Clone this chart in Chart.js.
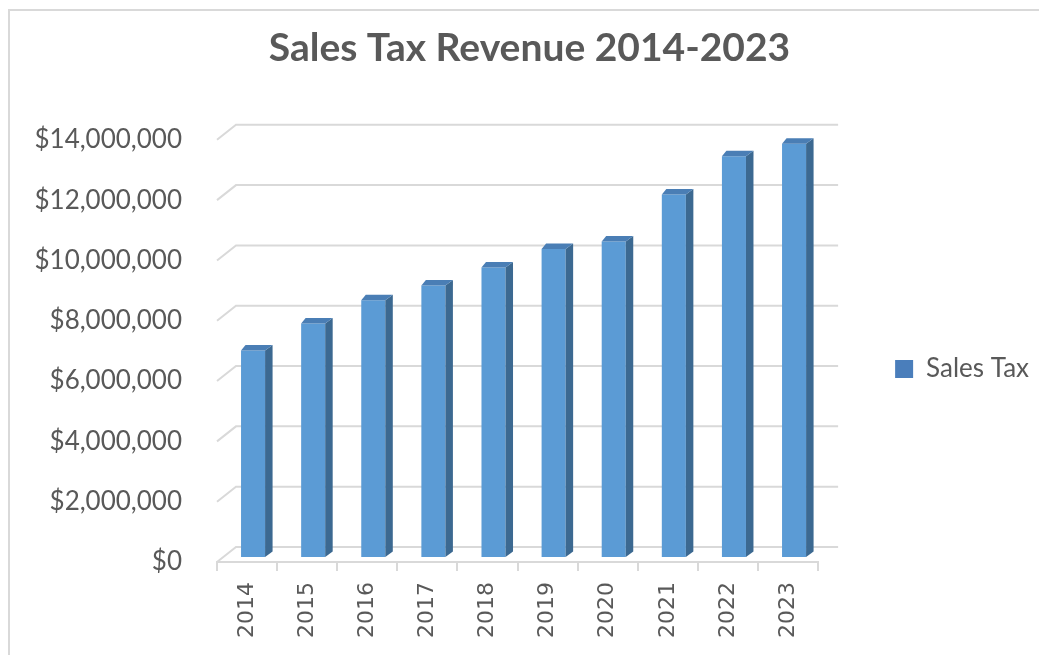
<!DOCTYPE html>
<html><head><meta charset="utf-8">
<script src="https://cdn.jsdelivr.net/npm/chart.js@4.4.1/dist/chart.umd.min.js"></script>
<style>
html,body{margin:0;padding:0;background:#fff;overflow:hidden}
#wrap{position:relative;width:1039px;height:655px}
#frame{position:absolute;left:8px;top:9px;width:1100px;height:700px;border-left:2px solid #d9d9d9;border-top:2px solid #d9d9d9}
canvas{position:absolute;left:0;top:0}
</style></head><body>
<div id="wrap"><div id="frame"></div><canvas id="c" width="1039" height="655"></canvas></div>
<script>
const categories = ['2014','2015','2016','2017','2018','2019','2020','2021','2022','2023'];
const salesTax = [6850000, 7740000, 8510000, 9000000, 9600000, 10210000, 10460000, 12020000, 13290000, 13700000];
const yMin = 0, yMax = 14000000, yStep = 2000000;
const titleText = 'Sales Tax Revenue 2014-2023';
const seriesName = 'Sales Tax';

const FRONT = '#5B9BD5', SIDE = '#3C6991', TOP = '#4A7EB5', GRID = '#d9d9d9', TEXT = '#595959';

const threeD = {
  id: 'threeD',
  afterLayout(chart) {
    // centre the legend item at the reference's vertical position
    const lg = chart.legend;
    if (lg) { const shift = 369 - (lg.top + lg.bottom) / 2; lg.top += shift; lg.bottom += shift; }
  },
  beforeDatasetsDraw(chart) {
    const {ctx, chartArea: a, scales: {y}} = chart;
    ctx.save();
    ctx.strokeStyle = GRID; ctx.lineWidth = 2;
    y.ticks.forEach(t => {
      const py = y.getPixelForValue(t.value);
      ctx.beginPath();
      ctx.moveTo(a.left, py);
      ctx.lineTo(a.left + 19, py - 15);
      ctx.lineTo(a.right + 20, py - 15);
      ctx.stroke();
    });
    ctx.restore();
    ctx.save();
    ctx.translate(6, -5);
  },
  afterDatasetsDraw(chart) {
    const ctx = chart.ctx;
    chart.getDatasetMeta(0).data.forEach(bar => {
      const {x, y, base, width} = bar.getProps(['x','y','base','width'], true);
      const x1 = x - width / 2, x2 = x + width / 2;
      ctx.fillStyle = SIDE;
      ctx.beginPath();
      ctx.moveTo(x2, y); ctx.lineTo(x2 + 7.5, y - 5.5); ctx.lineTo(x2 + 7.5, base - 5.5); ctx.lineTo(x2, base);
      ctx.closePath(); ctx.fill();
      ctx.fillStyle = TOP;
      ctx.beginPath();
      ctx.moveTo(x1, y); ctx.lineTo(x2, y); ctx.lineTo(x2 + 7.5, y - 5.5); ctx.lineTo(x1 + 4.5, y - 5.5);
      ctx.closePath(); ctx.fill();
    });
    ctx.restore();
  }
};

new Chart(document.getElementById('c'), {
  type: 'bar',
  data: {
    labels: categories,
    datasets: [{ label: seriesName, data: salesTax, backgroundColor: FRONT, borderWidth: 0,
      categoryPercentage: 1, barPercentage: 0.4 }]
  },
  options: {
    responsive: false, animation: false, devicePixelRatio: 1,
    layout: { padding: { left: 20, right: 0, top: 0, bottom: 0 } },
    plugins: {
      tooltip: { enabled: false },
      title: { display: true, text: titleText, color: TEXT,
        font: { family: 'Lato', size: 39, weight: 'bold', lineHeight: 1.2 },
        padding: { top: 25, bottom: 68 } },
      legend: { position: 'right', align: 'center',
        labels: { color: TEXT, font: { family: 'Lato', size: 26 }, boxWidth: 18, boxHeight: 18, padding: 77,
          generateLabels(chart) {
            const items = Chart.defaults.plugins.legend.labels.generateLabels(chart);
            items.forEach(i => { i.fillStyle = '#4A7EBB'; i.strokeStyle = '#4A7EBB'; i.lineWidth = 0; });
            return items;
          } } }
    },
    scales: {
      x: {
        grid: { display: true, drawOnChartArea: false, drawTicks: true, tickLength: 9, color: GRID, lineWidth: 2, offset: true },
        border: { display: true, color: GRID, width: 2 },
        ticks: { color: TEXT, font: { family: 'DejaVu Sans', size: 22 }, minRotation: 90, maxRotation: 90, padding: 11 },
        afterFit(s) { s.height = 93; }
      },
      y: {
        min: yMin, max: yMax,
        grid: { display: false, drawTicks: false },
        border: { display: false },
        ticks: { stepSize: yStep, color: TEXT, padding: 35, font: { family: 'Lato', size: 26 },
          callback: v => '$' + Number(v).toLocaleString('en-US') },
        afterFit(s) { s.width = 197; }
      }
    }
  },
  plugins: [threeD]
});
</script>
</body></html>
